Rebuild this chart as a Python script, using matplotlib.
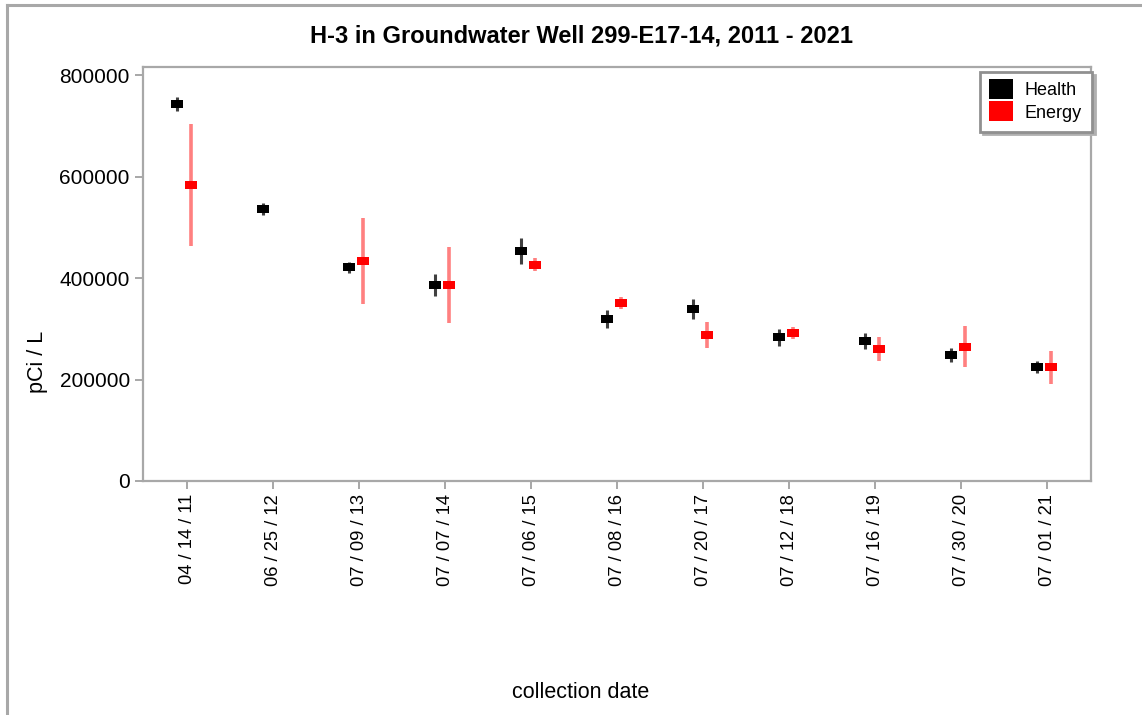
import numpy as np
import matplotlib
matplotlib.use("Agg")
import matplotlib.pyplot as plt
from matplotlib.lines import Line2D

plt.rcParams['font.family'] = ['Liberation Sans', 'DejaVu Sans']

dates = ["04 / 14 / 11", "06 / 25 / 12", "07 / 09 / 13", "07 / 07 / 14", "07 / 06 / 15",
         "07 / 08 / 16", "07 / 20 / 17", "07 / 12 / 18", "07 / 16 / 19", "07 / 30 / 20",
         "07 / 01 / 21"]
health = [743000, 536000, 421000, 386000, 453000, 319000, 339000, 283000, 276000, 248000, 224000]
health_err = [13000, 12000, 11000, 21000, 25000, 18000, 20000, 16000, 16000, 14000, 12000]
energy = [583000, np.nan, 433000, 386000, 426000, 350000, 288000, 291000, 260000, 265000, 224000]
energy_err = [120000, np.nan, 85000, 75000, 13000, 12000, 26000, 12000, 24000, 41000, 33000]

W, H = 1142, 715
fig = plt.figure(figsize=(W / 100, H / 100), dpi=100)
ax = fig.add_axes([143 / W, 1 - 481 / H, (1091 - 143) / W, (481 - 67) / H])

x = np.arange(len(dates))
rect = [(-6, -3.6), (6, -3.6), (6, 3.6), (-6, 3.6)]

ax.errorbar(x - 0.115, health, yerr=health_err, fmt='none', ecolor='#404040',
            elinewidth=2.2, capsize=0, zorder=2)
ax.plot(x - 0.115, health, linestyle='none', marker=rect, markersize=9,
        color='black', markeredgewidth=0, zorder=3)
ax.errorbar(x + 0.045, energy, yerr=energy_err, fmt='none', ecolor='#ff8080',
            elinewidth=2.6, capsize=0, zorder=4)
ax.plot(x + 0.045, energy, linestyle='none', marker=rect, markersize=9,
        color='#ff0000', markeredgewidth=0, zorder=5)

ax.set_xlim(-0.515, 10.51)
ax.set_ylim(0, 815800)
ax.set_xticks(x)
ax.set_xticklabels(dates, rotation=90, fontsize=13.2)
ax.set_yticks([0, 200000, 400000, 600000, 800000])
ax.set_yticklabels(["0", "200000", "400000", "600000", "800000"], fontsize=15)
ax.tick_params(axis='both', length=6, width=1.3, color='#a0a0a0', pad=3.5)

for s in ax.spines.values():
    s.set_color('#a8a8a8')
    s.set_linewidth(1.6)

fig.text(581 / W, 1 - 36 / H, "H-3 in Groundwater Well 299-E17-14, 2011 - 2021",
         ha='center', va='center', fontsize=17, fontweight='bold')
fig.text(38 / W, 1 - 362 / H, "pCi / L", rotation=90, ha='center', va='center', fontsize=15.5)
fig.text(581 / W, 1 - 693 / H, "collection date", ha='center', va='center', fontsize=15.5)

# legend
sq = [(-6, -5), (6, -5), (6, 5), (-6, 5)]
handles = [Line2D([], [], linestyle='none', marker=sq, markersize=17, color='black', markeredgewidth=0),
           Line2D([], [], linestyle='none', marker=sq, markersize=17, color='#ff0000', markeredgewidth=0)]
leg = ax.legend(handles, ["Health", "Energy"], loc='upper right', bbox_to_anchor=(1.001, 0.987),
                fontsize=13, frameon=True, fancybox=False,
                shadow={'color': '#b0b0b0', 'alpha': 1.0}, borderpad=0.55,
                handletextpad=0.75, labelspacing=0.3, handlelength=1.2, borderaxespad=0.0)
leg.get_frame().set_edgecolor('#909090')
leg.get_frame().set_linewidth(2.0)

# figure frame
fig.add_artist(Line2D([7 / W, 7 / W], [0, 1 - 5 / H], color='#a8a8a8', linewidth=2.2,
                      transform=fig.transFigure))
fig.add_artist(Line2D([7 / W, 1], [1 - 5 / H, 1 - 5 / H], color='#a8a8a8', linewidth=2.2,
                      transform=fig.transFigure))

fig.savefig("out.png", dpi=100)
